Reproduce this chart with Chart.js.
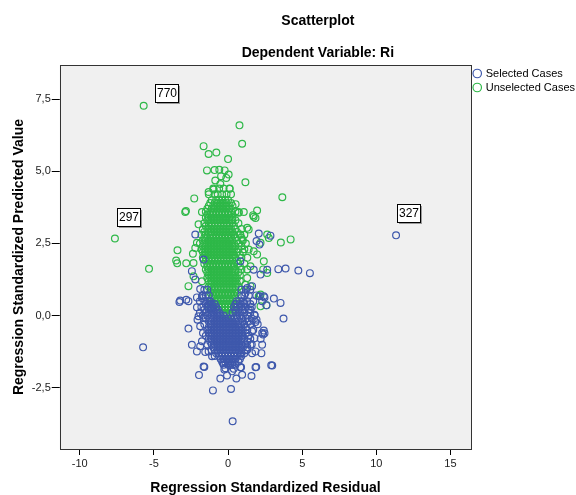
<!DOCTYPE html>
<html>
<head>
<meta charset="utf-8">
<script src="https://cdn.jsdelivr.net/npm/chart.js@4/dist/chart.umd.min.js"></script>
<style>
  html, body { margin: 0; padding: 0; background: #ffffff; }
  #wrap { width: 576px; height: 495px; }
</style>
</head>
<body>
<div id="wrap"><canvas id="c" width="576" height="495"></canvas></div>
<script>
// Regression residual vs. predicted value, split by case selection.
const chartTitle = 'Scatterplot';
const chartSubtitle = 'Dependent Variable: Ri';
const xAxisTitle = 'Regression Standardized Residual';
const yAxisTitle = 'Regression Standardized Predicted Value';
const seriesNames = ['Selected Cases', 'Unselected Cases'];
const xTickValues = [-10, -5, 0, 5, 10, 15];
const yTickValues = [-2.5, 0, 2.5, 5, 7.5];

// Selected cases: isolated points [residual, predicted]
const selectedPoints = [
  [11.33, 2.78], [-5.73, -1.10], [0.31, -3.66], [-1.02, -2.59], [0.20, -2.54],
  [-1.60, -1.78], [-1.96, -2.06], [-0.52, -2.18], [-0.07, -2.07], [-0.25, -1.87],
  [0.16, -1.70], [0.38, -1.84], [0.88, -1.79], [0.95, -2.05], [0.56, -2.18],
  [0.27, -1.93], [1.58, -2.09], [1.90, -1.78], [2.98, -1.73], [3.74, -0.10],
  [3.54, 0.44], [3.09, 0.59], [2.41, 0.67], [2.30, -0.60], [2.36, -0.65],
  [2.30, -1.01], [2.25, -1.30], [1.85, -1.24], [1.62, -1.30], [1.85, -0.22],
  [1.51, 0.21], [2.59, 0.36], [2.14, 0.67], [-3.28, 0.47], [-2.82, 0.55],
  [-2.67, 0.50], [-2.10, 0.29], [-1.99, -0.02], [-2.06, -0.14], [-1.65, -0.08],
  [-1.88, -0.37], [-1.69, -0.60], [-1.76, -0.89], [-1.88, -1.06], [-2.67, -0.45],
  [-2.44, -1.01], [-2.10, -1.24], [-1.54, -1.26], [-1.65, -1.76], [-2.10, 0.63],
  [-1.76, 0.61], [-1.08, 0.26], [-1.25, 0.50], [2.91, -1.72], [1.85, -1.79],
  [0.83, -1.79], [-0.18, -1.82], [-0.34, -1.64], [0.27, -1.64], [1.29, -0.20],
  [1.62, -0.54], [1.78, -0.78], [1.51, -1.01], [1.29, -1.18], [0.83, -1.35],
  [-1.08, -1.41], [-1.31, -1.24], [-2.44, 1.54], [-2.21, 1.25], [-1.88, 0.92],
  [-1.76, 0.67], [5.52, 1.47], [4.74, 1.56], [3.88, 1.63], [3.39, 1.61],
  [2.86, 2.77], [2.07, 2.84], [2.12, 2.46], [1.92, 2.58], [2.64, 1.59],
  [2.19, 1.42], [1.62, 1.02], [1.29, 0.96], [1.10, 0.44], [1.78, 0.03],
  [1.92, -0.14], [-2.21, 2.81], [-1.65, 1.94], [0.83, 1.88], [1.73, 1.59],
  [1.17, 0.78], [-3.23, 0.52], [2.46, 0.63], [2.41, -0.52], [2.46, -0.61]
];

// Selected cases: dense core, one row per predicted value [predicted, residuals]
const selectedCore = [
  [0.9, [-1.6, -1.4, 0.9, 1.2, 1.5]],
  [0.7, [-1.7, -1.5, -1.3, 0.9, 1.1, 1.4, 1.9]],
  [0.5, [-1.9, -1.6, -1.4, -1.2, 0.6, 0.8, 1.0, 1.3, 1.7, 2.3]],
  [0.4, [-1.5, -1.3, -1.1, -0.9, 0.5, 0.8, 1.1, 1.5]],
  [0.3, [-1.8, -1.4, -1.2, -1.0, -0.8, 0.4, 0.6, 0.9, 1.2, 1.6]],
  [0.2, [-1.6, -1.3, -1.1, -0.9, -0.7, 0.5, 0.7, 1.0, 1.4]],
  [0.1, [-1.9, -1.5, -1.2, -1.0, -0.8, -0.6, 0.3, 0.5, 0.8, 1.1, 1.5]],
  [0.0, [-1.7, -1.4, -1.1, -0.9, -0.7, -0.5, -0.3, 0.6, 0.8, 1.0, 1.3, 1.8]],
  [-0.1, [-1.5, -1.2, -1.0, -0.8, -0.6, -0.4, -0.2, 0.0, 0.2, 0.4, 0.6, 0.9, 1.2, 1.6]],
  [-0.2, [-1.3, -1.1, -0.9, -0.7, -0.5, -0.3, -0.1, 0.1, 0.3, 0.5, 0.7, 1.0, 1.4]],
  [-0.3, [-1.6, -1.2, -1.0, -0.8, -0.6, -0.4, -0.2, 0.0, 0.2, 0.4, 0.6, 0.8, 1.1, 1.5, 2.0]],
  [-0.4, [-1.3, -1.1, -0.9, -0.7, -0.5, -0.3, -0.1, 0.1, 0.3, 0.5, 0.7, 0.9, 1.2]],
  [-0.5, [-1.4, -1.2, -1.0, -0.8, -0.6, -0.4, -0.2, 0.0, 0.2, 0.4, 0.6, 0.8, 1.0, 1.3, 1.7]],
  [-0.6, [-1.3, -1.1, -0.9, -0.7, -0.5, -0.3, -0.1, 0.1, 0.3, 0.5, 0.7, 0.9, 1.2]],
  [-0.7, [-1.5, -1.2, -1.0, -0.8, -0.6, -0.4, -0.2, 0.0, 0.2, 0.4, 0.6, 0.8, 1.0, 1.4]],
  [-0.8, [-1.3, -1.1, -0.9, -0.7, -0.5, -0.3, -0.1, 0.1, 0.3, 0.5, 0.7, 0.9, 1.1, 1.5, 2.2]],
  [-0.9, [-1.2, -1.0, -0.8, -0.6, -0.4, -0.2, 0.0, 0.2, 0.4, 0.6, 0.8, 1.0, 1.3]],
  [-1.0, [-1.4, -1.1, -0.9, -0.7, -0.5, -0.3, -0.1, 0.1, 0.3, 0.5, 0.7, 0.9, 1.2, 1.6]],
  [-1.1, [-1.0, -0.8, -0.6, -0.4, -0.2, 0.0, 0.2, 0.4, 0.6, 0.8, 1.0, 1.3]],
  [-1.2, [-1.1, -0.9, -0.7, -0.5, -0.3, -0.1, 0.1, 0.3, 0.5, 0.7, 0.9, 1.2]],
  [-1.3, [-0.8, -0.6, -0.4, -0.2, 0.0, 0.2, 0.4, 0.6, 0.8, 1.1]],
  [-1.4, [-0.9, -0.6, -0.4, -0.2, 0.0, 0.2, 0.4, 0.6, 0.9]],
  [-1.5, [-0.5, -0.3, -0.1, 0.1, 0.3, 0.5, 0.8]],
  [-1.6, [-0.4, -0.2, 0.0, 0.2, 0.4, 0.7]],
  [-1.7, [-0.3, 0.0, 0.3, 0.5]]
];

// Unselected cases: isolated points [residual, predicted]
const unselectedPoints = [
  [-5.69, 7.27], [-7.63, 2.67], [0.77, 6.59], [0.95, 5.95], [-1.65, 5.87],
  [-0.79, 5.65], [-1.31, 5.60], [0.00, 5.42], [-1.42, 5.03], [-0.91, 5.04],
  [-0.59, 5.05], [-0.23, 5.03], [0.04, 4.89], [-0.12, 4.77], [-0.86, 4.68],
  [-0.47, 4.83], [-0.52, 4.56], [1.17, 4.62], [3.66, 4.10], [-2.28, 4.06],
  [-2.84, 3.62], [-1.76, 3.59], [0.51, 3.86], [1.96, 3.64], [1.73, 3.42],
  [1.06, 3.59], [0.72, 3.59], [0.11, 4.39], [-0.97, 4.37], [-1.31, 4.28],
  [4.22, 2.64], [3.56, 2.53], [-5.33, 1.62], [-3.41, 2.26], [-3.50, 1.91],
  [-3.43, 1.81], [-2.82, 1.81], [-2.37, 2.14], [-2.33, 1.82], [-2.21, 2.34],
  [-2.10, 2.52], [-1.99, 3.16], [1.29, 3.04], [1.39, 2.98], [0.83, 2.81],
  [0.95, 2.64], [2.75, 2.69], [2.64, 2.81], [2.19, 2.52], [1.73, 2.23],
  [1.39, 2.29], [1.96, 2.12], [2.41, 1.88], [2.64, 1.48], [2.37, 1.60],
  [1.51, 1.71], [1.29, 1.60], [-2.33, 1.36], [-2.67, 1.02], [-1.76, 1.19],
  [1.29, 1.30], [1.17, 1.07], [1.51, 1.02], [2.19, 0.73], [2.07, 0.67],
  [2.19, 0.32], [2.59, 0.36], [-1.20, 0.26], [-1.08, 0.38], [-0.18, 3.33],
  [0.27, 3.33], [0.72, 3.56], [1.69, 3.48], [1.85, 3.38], [-2.89, 3.59]
];

// Unselected cases: dense core, one row per predicted value [predicted, residuals]
const unselectedCore = [
  [4.4, [-1.0, -0.6, -0.3, 0.1]],
  [4.2, [-1.3, -0.9, -0.7, -0.4, -0.1, 0.2]],
  [4.0, [-1.1, -0.8, -0.6, -0.4, -0.2, 0.0]],
  [3.9, [-1.2, -0.9, -0.7, -0.5, -0.3, -0.1, 0.2]],
  [3.8, [-1.3, -1.0, -0.8, -0.6, -0.4, -0.2, 0.0, 0.3]],
  [3.7, [-1.4, -1.1, -0.9, -0.7, -0.5, -0.3, -0.1, 0.1]],
  [3.6, [-1.5, -1.2, -1.0, -0.8, -0.6, -0.4, -0.2, 0.0, 0.2, 0.5]],
  [3.5, [-1.4, -1.2, -1.0, -0.8, -0.6, -0.4, -0.2, 0.0, 0.2]],
  [3.4, [-1.5, -1.3, -1.1, -0.9, -0.7, -0.5, -0.3, -0.1, 0.1, 0.3]],
  [3.3, [-1.4, -1.2, -1.0, -0.8, -0.6, -0.4, -0.2, 0.0, 0.2, 0.5]],
  [3.2, [-1.6, -1.3, -1.1, -0.9, -0.7, -0.5, -0.3, -0.1, 0.1, 0.3, 0.7]],
  [3.1, [-1.5, -1.3, -1.1, -0.9, -0.7, -0.5, -0.3, -0.1, 0.1, 0.4]],
  [3.0, [-1.7, -1.4, -1.2, -1.0, -0.8, -0.6, -0.4, -0.2, 0.0, 0.2, 0.5, 0.9]],
  [2.9, [-1.6, -1.3, -1.1, -0.9, -0.7, -0.5, -0.3, -0.1, 0.1, 0.3, 0.6]],
  [2.8, [-1.8, -1.5, -1.2, -1.0, -0.8, -0.6, -0.4, -0.2, 0.0, 0.2, 0.4, 0.8, 1.1]],
  [2.7, [-1.6, -1.4, -1.2, -1.0, -0.8, -0.6, -0.4, -0.2, 0.0, 0.2, 0.5, 0.9]],
  [2.6, [-1.7, -1.5, -1.3, -1.1, -0.9, -0.7, -0.5, -0.3, -0.1, 0.1, 0.3, 0.6, 1.0]],
  [2.5, [-1.9, -1.6, -1.4, -1.2, -1.0, -0.8, -0.6, -0.4, -0.2, 0.0, 0.2, 0.4, 0.7, 1.2]],
  [2.4, [-1.7, -1.5, -1.3, -1.1, -0.9, -0.7, -0.5, -0.3, -0.1, 0.1, 0.3, 0.5, 0.9]],
  [2.3, [-1.8, -1.6, -1.4, -1.2, -1.0, -0.8, -0.6, -0.4, -0.2, 0.0, 0.2, 0.4, 0.7, 1.1]],
  [2.2, [-1.7, -1.5, -1.3, -1.1, -0.9, -0.7, -0.5, -0.3, -0.1, 0.1, 0.3, 0.6, 1.0]],
  [2.1, [-1.6, -1.4, -1.2, -1.0, -0.8, -0.6, -0.4, -0.2, 0.0, 0.2, 0.4, 0.8]],
  [2.0, [-1.7, -1.5, -1.3, -1.1, -0.9, -0.7, -0.5, -0.3, -0.1, 0.1, 0.3, 0.5, 0.9, 1.3]],
  [1.9, [-1.5, -1.3, -1.1, -0.9, -0.7, -0.5, -0.3, -0.1, 0.1, 0.3, 0.6]],
  [1.8, [-1.6, -1.4, -1.2, -1.0, -0.8, -0.6, -0.4, -0.2, 0.0, 0.2, 0.4, 0.7, 1.1]],
  [1.7, [-1.4, -1.2, -1.0, -0.8, -0.6, -0.4, -0.2, 0.0, 0.2, 0.4, 0.8]],
  [1.6, [-1.5, -1.3, -1.1, -0.9, -0.7, -0.5, -0.3, -0.1, 0.1, 0.3, 0.5, 0.9, 1.3]],
  [1.5, [-1.4, -1.2, -1.0, -0.8, -0.6, -0.4, -0.2, 0.0, 0.2, 0.4, 0.7]],
  [1.4, [-1.3, -1.1, -0.9, -0.7, -0.5, -0.3, -0.1, 0.1, 0.3, 0.5, 0.8]],
  [1.3, [-1.4, -1.2, -1.0, -0.8, -0.6, -0.4, -0.2, 0.0, 0.2, 0.4, 0.6]],
  [1.2, [-1.3, -1.1, -0.9, -0.7, -0.5, -0.3, -0.1, 0.1, 0.3, 0.5, 0.8]],
  [1.1, [-1.2, -1.0, -0.8, -0.6, -0.4, -0.2, 0.0, 0.2, 0.4, 0.6]],
  [1.0, [-1.3, -1.1, -0.9, -0.7, -0.5, -0.3, -0.1, 0.1, 0.3, 0.5, 0.7]],
  [0.9, [-1.1, -0.9, -0.7, -0.5, -0.3, -0.1, 0.1, 0.3, 0.5]],
  [0.8, [-1.2, -1.0, -0.8, -0.6, -0.4, -0.2, 0.0, 0.2, 0.4, 0.6]],
  [0.7, [-1.0, -0.8, -0.6, -0.4, -0.2, 0.0, 0.2, 0.4]],
  [0.6, [-1.1, -0.9, -0.7, -0.5, -0.3, -0.1, 0.1, 0.3, 0.5]],
  [0.5, [-0.9, -0.7, -0.5, -0.3, -0.1, 0.1, 0.3]],
  [0.4, [-0.8, -0.6, -0.4, -0.2, 0.0, 0.2, 0.4]],
  [0.3, [-0.6, -0.4, -0.2, 0.0, 0.2, 0.4]],
  [0.2, [-0.4, -0.2, 0.0, 0.2, 0.4]],
  [0.1, [-0.3, -0.1, 0.1, 0.3]],
  [0.0, [-0.1, 0.2]]
];

// Case numbers shown next to outlying points: [series, point index, caption]
const caseLabels = [
  [1, 0, '770'],
  [1, 1, '297'],
  [0, 0, '327']
];

const SELECTED_COLOR = '#3E58AC';
const UNSELECTED_COLOR = '#2EB848';

function toXY(points, core) {
  const out = points.map(p => ({ x: p[0], y: p[1] }));
  core.forEach(row => row[1].forEach(x => out.push({ x: x, y: row[0] })));
  return out;
}

const fmtComma = v => (Math.round(v * 10) / 10).toFixed(1).replace('.', ',');

const plotFrame = {
  id: 'plotFrame',
  beforeDatasetsDraw(chart) {
    const { ctx, chartArea: a } = chart;
    ctx.save();
    ctx.fillStyle = '#F0F0F0';
    ctx.fillRect(a.left, a.top, a.right - a.left, a.bottom - a.top);
    ctx.restore();
  },
  afterDatasetsDraw(chart) {
    const { ctx, chartArea: a } = chart;
    ctx.save();
    ctx.strokeStyle = '#333';
    ctx.lineWidth = 1;
    ctx.strokeRect(Math.round(a.left) + 0.5, Math.round(a.top) + 0.5,
      Math.round(a.right - a.left), Math.round(a.bottom - a.top));
    ctx.restore();
  }
};

const headings = {
  id: 'headings',
  afterDraw(chart) {
    const { ctx, chartArea: a } = chart;
    const cx = (a.left + chart.width) / 2;
    ctx.save();
    ctx.fillStyle = '#000';
    ctx.textAlign = 'center';
    ctx.textBaseline = 'middle';
    ctx.font = 'bold 14px "Liberation Sans", Arial, sans-serif';
    ctx.fillText(chartTitle, cx, 21);
    ctx.fillText(chartSubtitle, cx, 53);
    ctx.restore();
  }
};

// Offsets place each caption box above and to the right of its point
const captionOffsets = { '770': [11, -22], '297': [2, -31], '327': [1, -31] };

const caseCaptions = {
  id: 'caseCaptions',
  afterDatasetsDraw(chart) {
    const { ctx } = chart;
    ctx.save();
    ctx.font = '12px "Liberation Sans", Arial, sans-serif';
    ctx.textBaseline = 'middle';
    ctx.textAlign = 'center';
    caseLabels.forEach(([ds, idx, text]) => {
      const el = chart.getDatasetMeta(ds).data[idx];
      if (!el) return;
      const off = captionOffsets[text];
      const w = 23, h = 18;
      const bx = Math.round(el.x + off[0]) + 0.5;
      const by = Math.round(el.y + off[1]) + 0.5;
      ctx.fillStyle = '#9a9a9a';
      ctx.fillRect(bx + 1.5, by + 1.5, w, h);
      ctx.fillStyle = '#fff';
      ctx.fillRect(bx, by, w, h);
      ctx.strokeStyle = '#000';
      ctx.lineWidth = 1;
      ctx.strokeRect(bx, by, w, h);
      ctx.fillStyle = '#000';
      ctx.fillText(text, bx + w / 2, by + h / 2 + 0.5);
    });
    ctx.restore();
  }
};

const FONT = '"Liberation Sans", Arial, sans-serif';

new Chart(document.getElementById('c'), {
  type: 'scatter',
  data: {
    datasets: [
      {
        label: seriesNames[0],
        data: toXY(selectedPoints, selectedCore),
        borderColor: SELECTED_COLOR,
        backgroundColor: 'rgba(0,0,0,0)',
        pointStyle: 'circle',
        pointRadius: 3.4,
        pointBorderWidth: 1.2,
        pointHoverRadius: 3.4
      },
      {
        label: seriesNames[1],
        data: toXY(unselectedPoints, unselectedCore),
        borderColor: UNSELECTED_COLOR,
        backgroundColor: 'rgba(0,0,0,0)',
        pointStyle: 'circle',
        pointRadius: 3.4,
        pointBorderWidth: 1.2,
        pointHoverRadius: 3.4
      }
    ]
  },
  options: {
    responsive: false,
    animation: false,
    events: [],
    layout: { padding: { top: 65, left: 7, right: -9, bottom: 0 } },
    plugins: {
      title: { display: false },
      tooltip: { enabled: false },
      legend: {
        position: 'right',
        align: 'start',
        labels: {
          usePointStyle: true,
          boxWidth: 6,
          boxHeight: 6,
          padding: 3,
          color: '#000',
          font: { family: FONT, size: 11 }
        }
      }
    },
    scales: {
      x: {
        type: 'linear',
        min: -11.35,
        max: 16.4,
        afterBuildTicks: axis => { axis.ticks = xTickValues.map(v => ({ value: v })); },
        ticks: {
          color: '#222',
          font: { family: FONT, size: 11 },
          padding: 2,
          maxRotation: 0,
          callback: v => String(v)
        },
        grid: { drawOnChartArea: false, drawTicks: true, tickLength: 6, color: '#000' },
        border: { display: false },
        title: {
          display: true,
          text: xAxisTitle,
          color: '#000',
          font: { family: FONT, size: 14, weight: 'bold' },
          padding: { top: 8, bottom: -2 }
        }
      },
      y: {
        type: 'linear',
        min: -4.62,
        max: 8.68,
        afterBuildTicks: axis => { axis.ticks = yTickValues.map(v => ({ value: v })); },
        ticks: {
          color: '#222',
          font: { family: FONT, size: 11 },
          padding: 1,
          callback: v => fmtComma(v)
        },
        grid: { drawOnChartArea: false, drawTicks: true, tickLength: 8, color: '#000' },
        border: { display: false },
        title: {
          display: true,
          text: yAxisTitle,
          color: '#000',
          font: { family: FONT, size: 14, weight: 'bold' },
          padding: { top: 4, bottom: 3 }
        }
      }
    }
  },
  plugins: [plotFrame, caseCaptions, headings]
});
</script>
</body>
</html>
